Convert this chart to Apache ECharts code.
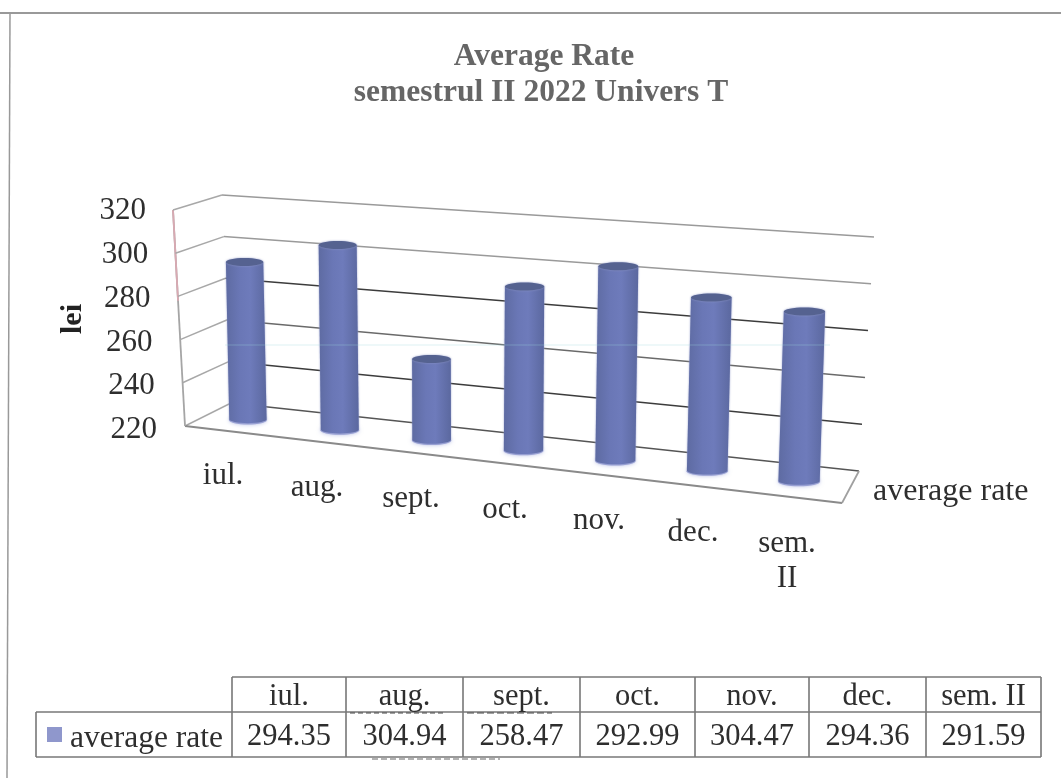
<!DOCTYPE html>
<html>
<head>
<meta charset="utf-8">
<title>Average Rate</title>
<style>
  html, body { margin: 0; padding: 0; background: #fff; }
  #chart { width: 1061px; height: 778px; }
</style>
<script src="https://cdn.jsdelivr.net/npm/echarts@6/dist/echarts.min.js"></script>
</head>
<body>
<div id="chart"></div>
<script>
// data
const categories = ["iul.", "aug.", "sept.", "oct.", "nov.", "dec.", "sem. II"];
const averageRate = [294.35, 304.94, 258.47, 292.99, 304.47, 294.36, 291.59];
const yTicks = [220, 240, 260, 280, 300, 320];
const seriesName = "average rate";
const titleLines = ["Average Rate", "semestrul II 2022 Univers T"];
const yName = "lei";

const FONT = '"Liberation Serif", "Times New Roman", serif';
const INK = "#2e2e2e";

// the fake 3d box: corners of each plane on the page [x, y]
const BACK = { tl: [222, 195], tr: [874, 237], bl: [231, 403], br: [859, 471] };
const COLS = { tl: [196.5, 198], tr: [853.5, 240], bl: [202, 418], br: [845, 490] };
const FRONT_TOP = [173, 210];
const FRONT_BOTTOM = [185, 426];
const FLOOR_RIGHT = [842, 503];

const lerp = (a, b, t) => a + (b - a) * t;
function project(q, s, t) {
  const top = [lerp(q.tl[0], q.tr[0], s), lerp(q.tl[1], q.tr[1], s)];
  const bot = [lerp(q.bl[0], q.br[0], s), lerp(q.bl[1], q.br[1], s)];
  return [lerp(top[0], bot[0], t), lerp(top[1], bot[1], t)];
}
// page position from the grid -> position inside the box
function toUnit(params, p) {
  const c = params.coordSys;
  return [(p[0] - c.x) / c.width, (p[1] - c.y) / c.height];
}
const seg = (a, b, color, w) => ({
  type: "line", silent: true,
  shape: { x1: a[0], y1: a[1], x2: b[0], y2: b[1] },
  style: { stroke: color, lineWidth: w || 1.5 },
});

const lineColors = { 220: "#555", 240: "#3c3c3c", 260: "#6a6a6a", 280: "#3c3c3c", 300: "#9a9a9a", 320: "#9a9a9a" };

function renderWall(params, api) {
  const v = api.value(1);
  const t = toUnit(params, api.coord([0, v]))[1];
  const front = [lerp(FRONT_TOP[0], FRONT_BOTTOM[0], t), lerp(FRONT_TOP[1], FRONT_BOTTOM[1], t)];
  const backL = project(BACK, 0, t);
  const backR = project(BACK, 1, t);
  const kids = [seg(front, backL, "#a8a8a8"), seg(backL, backR, lineColors[v])];
  if (v === yTicks[0]) {
    // floor and the front edge of the left wall
    kids.push(seg(FRONT_BOTTOM, FLOOR_RIGHT, "#8a8a8a", 1.8));
    kids.push(seg(FLOOR_RIGHT, backR, "#a0a0a0", 1.8));
    kids.push(seg(FRONT_TOP, FRONT_BOTTOM, "#a5a5a5", 1.8));
    // pink tint the scan gave the top of that edge
    const tint = [lerp(FRONT_TOP[0], FRONT_BOTTOM[0], 0.42), lerp(FRONT_TOP[1], FRONT_BOTTOM[1], 0.42)];
    kids.push(seg(FRONT_TOP, tint, "#d9a9b2", 1.8));
  }
  return { type: "group", children: kids };
}

function renderCylinder(params, api) {
  const i = api.value(0);
  const val = api.value(1);
  const top = toUnit(params, api.coord([i, val]));
  const base = toUnit(params, api.coord([i, yTicks[0]]));
  const pTop = project(COLS, top[0], top[1]);
  const pBot = project(COLS, base[0], base[1]);
  const rx = lerp(18.5, 20.8, top[0]);
  const ry = 4;
  const cyTop = pTop[1] + ry;
  const cyBot = pBot[1] - ry;

  const pts = [[pTop[0] - rx, cyTop], [pTop[0] + rx, cyTop]];
  for (let a = 0; a <= 16; a++) {
    const ang = (a / 16) * Math.PI;
    pts.push([pBot[0] + rx * Math.cos(ang), cyBot + ry * Math.sin(ang)]);
  }
  return {
    type: "group",
    children: [
      { type: "ellipse", silent: true,
        shape: { cx: pBot[0], cy: cyBot + 0.8, rx: rx + 0.3, ry: ry + 0.5 },
        style: { fill: "#9aa2d6", shadowColor: "#b9c0e6", shadowBlur: 4 } },
      { type: "polygon", silent: true,
        shape: { points: pts },
        style: {
          shadowColor: "#8f98c8", shadowBlur: 2,
          fill: new echarts.graphic.LinearGradient(0, 0, 1, 0, [
            { offset: 0, color: "#5e6ba2" },
            { offset: 0.35, color: "#6a77b6" },
            { offset: 0.6, color: "#6e7bbb" },
            { offset: 1, color: "#5b689f" },
          ]),
        } },
      { type: "ellipse", silent: true,
        shape: { cx: pTop[0], cy: cyTop, rx: rx, ry: ry },
        style: { fill: "#556290", shadowColor: "#8f98c8", shadowBlur: 2 } },
    ],
  };
}

function renderYLabel(params, api) {
  const v = api.value(1);
  const t = toUnit(params, api.coord([0, v]))[1];
  return {
    type: "text", silent: true,
    style: {
      text: String(v),
      x: lerp(146, 157, t), y: lerp(211, 430, t),
      align: "right", verticalAlign: "middle",
      fill: INK, font: "31px " + FONT,
    },
  };
}

function renderCatLabel(params, api) {
  const i = api.value(0);
  const s = toUnit(params, api.coord([i, yTicks[0]]))[0];
  return {
    type: "text", silent: true,
    style: {
      text: categories[i].replace(" ", "\n"),
      x: lerp(176, 834, s), y: lerp(453, 532, s),
      align: "center", verticalAlign: "top",
      lineHeight: 35,
      fill: INK, font: "31px " + FONT,
    },
  };
}

// frame, titles and the data table under the chart
function buildGraphic() {
  const els = [];
  const line = (x1, y1, x2, y2, color, w, dash) => els.push({
    type: "line", silent: true,
    shape: { x1, y1, x2, y2 },
    style: { stroke: color, lineWidth: w, lineDash: dash || null },
  });
  const text = (str, x, y, align, extra) => els.push({
    type: "text", silent: true, x, y,
    style: Object.assign({ text: str, align, verticalAlign: "middle", fill: INK, font: "30.5px " + FONT }, extra),
  });

  // frame of the page
  line(0, 13, 1061, 13, "#777", 1.5);
  line(10, 13, 7, 778, "#999", 1.5);

  text(titleLines[0], 544, 57, "center", { font: "bold 31.5px " + FONT, fill: "#666" });
  text(titleLines[1], 541, 93, "center", { font: "bold 31.5px " + FONT, fill: "#666" });
  els.push({
    type: "text", silent: true, x: 73, y: 319, rotation: Math.PI / 2,
    style: { text: yName, align: "center", verticalAlign: "middle", fill: "#222", font: "bold 30px " + FONT },
  });
  text(seriesName, 873, 492, "left", { font: "32px " + FONT });

  // table
  const xs = [232, 346, 463, 580, 695, 809, 926, 1041];
  const rowY = [677, 712, 757];
  const tableLeft = 36;
  const c = "#777";
  line(xs[0], rowY[0], xs[7], rowY[0], c, 1.6);
  line(tableLeft, rowY[1], xs[7], rowY[1], c, 1.6);
  line(tableLeft, rowY[2], xs[7], rowY[2], c, 1.6);
  line(tableLeft, rowY[1], tableLeft, rowY[2], c, 1.6);
  xs.forEach(x => line(x, rowY[0], x, rowY[2], c, 1.6));
  // scanner leftovers around the table
  line(350, 713, 443, 713, "#444", 1, [5, 3]);
  line(467, 713, 552, 713, "#444", 1, [7, 3]);
  line(372, 759, 500, 759, "#666", 1, [6, 3]);

  categories.forEach((name, i) => {
    const cx = (xs[i] + xs[i + 1]) / 2;
    text(name, cx, 697, "center");
    text(averageRate[i].toFixed(2), cx, 737, "center");
  });
  els.push({
    type: "rect", silent: true,
    shape: { x: 47, y: 727, width: 15, height: 15 },
    style: { fill: "#8f97cc" },
  });
  text(seriesName, 70, 739, "left", { font: "31.5px " + FONT });
  // pale streak the scanner left across the columns
  line(225, 345, 830, 345, "#9fd6dc", 1, null);
  els[els.length - 1].z = 10;
  els[els.length - 1].style.opacity = 0.35;
  return els;
}

const chart = echarts.init(document.getElementById("chart"), null, { renderer: "canvas" });
chart.setOption({
  animation: false,
  backgroundColor: "#ffffff",
  grid: { left: 190, right: 190, top: 200, bottom: 290 },
  xAxis: { type: "category", data: categories, show: false },
  yAxis: { type: "value", min: 220, max: 320, interval: 20, show: false },
  graphic: { elements: buildGraphic() },
  series: [
    { type: "custom", name: "wall", silent: true, clip: false, z: 1,
      data: yTicks.map(v => [0, v]), renderItem: renderWall },
    { type: "custom", name: seriesName, silent: true, clip: false, z: 2,
      data: averageRate.map((v, i) => [i, v]), renderItem: renderCylinder },
    { type: "custom", name: "yLabels", silent: true, clip: false, z: 3,
      data: yTicks.map(v => [0, v]), renderItem: renderYLabel },
    { type: "custom", name: "catLabels", silent: true, clip: false, z: 3,
      data: categories.map((c, i) => [i, yTicks[0]]), renderItem: renderCatLabel },
  ],
});
</script>
</body>
</html>
